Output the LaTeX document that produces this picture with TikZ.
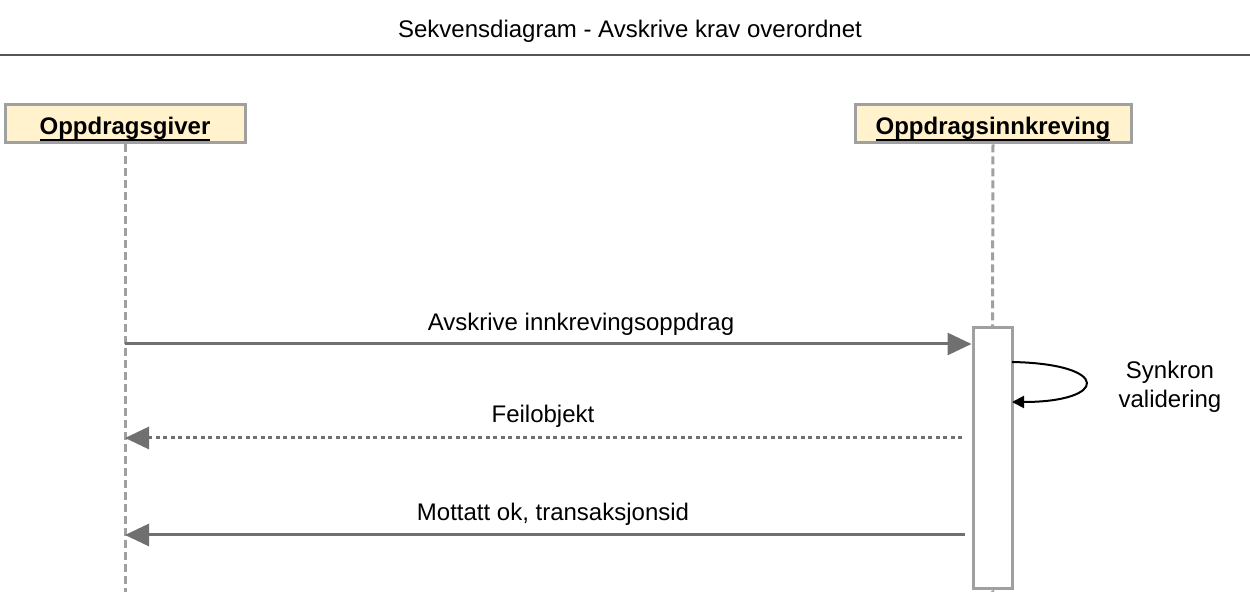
\documentclass[tikz,border=0pt]{standalone}
\usepackage{fontspec}
\setmainfont{Liberation Sans}
\usetikzlibrary{arrows.meta}
\definecolor{boxfill}{HTML}{FFF2CC}
\definecolor{boxline}{HTML}{A0A0A0}
\definecolor{msgline}{HTML}{707070}
\definecolor{ruleline}{HTML}{555555}
\newcommand\actorul[1]{\setbox0\hbox{#1}\raisebox{-1pt}[0pt][0pt]{\rlap{\vrule height -2pt depth 3.2pt width \wd0}\box0}}

\tikzset{
  actor/.style={draw=boxline,fill=boxfill,line width=1.5pt,inner sep=0pt,
    minimum height=19pt,text height=8.6pt,text depth=0pt,
    font=\bfseries\fontsize{12}{14}\selectfont},
  lifeline/.style={draw=boxline,line width=1.5pt,dash pattern=on 4pt off 2pt},
  msg/.style={draw=msgline,line width=1.5pt,-{Triangle[length=12pt,width=11pt]}},
  reply/.style={msg,dash pattern=on 2pt off 1.75pt},
  lbl/.style={font=\fontsize{12}{14.5}\selectfont}
}

\begin{document}
\begin{tikzpicture}[x=0.5pt,y=-0.5pt]
\useasboundingbox (0,0) rectangle (1250,592);

% title
\node[lbl] (title) at (630,31) {Sekvensdiagram - Avskrive krav overordnet};
\draw[ruleline,line width=0.75pt] (0,55) -- (1250,55);

% actors
\node[actor,minimum width=120pt] (giver) at (125,124) {\actorul{Oppdragsgiver}};
\node[actor,minimum width=138pt] (innkr) at (993,124) {\actorul{Oppdragsinnkreving}};
\node[draw=boxline,fill=white,line width=1.5pt,inner sep=0pt,
  minimum width=19.5pt,minimum height=130.5pt] (act) at (992.5,458.5) {};

% lifelines
\coordinate (gend) at (125,592);
\coordinate (iend) at (993,592);
\draw[lifeline] (giver.south) -- (gend);
\draw[lifeline] (innkr.south) -- (act.north);
\draw[lifeline] (act.south) -- (iend);

% messages
\coordinate (g1) at (125,344);
\coordinate (g2) at (125,438);
\coordinate (g3) at (125,535);
\coordinate (i2) at (962,438);
\coordinate (i3) at (965,535);
\draw[msg] (g1) -- (act.west |- g1);
\node[lbl] (m1) at (581,324) {Avskrive innkrevingsoppdrag};

\coordinate (s1) at (1012,362);
\coordinate (s2) at (1012,402);
\draw[black,line width=1pt,-{Triangle[length=6pt,width=6pt]}]
  (s1) .. controls (1112,364) and (1108,402) .. (s2);
\node[lbl,align=center] (m2) at (1170,387) {Synkron\\validering};

\draw[reply] (i2) -- (g2);
\node[lbl] (m3) at (543,416) {Feilobjekt};

\draw[msg] (i3) -- (g3);
\node[lbl] (m4) at (553,514) {Mottatt ok, transaksjonsid};
\end{tikzpicture}
\end{document}
